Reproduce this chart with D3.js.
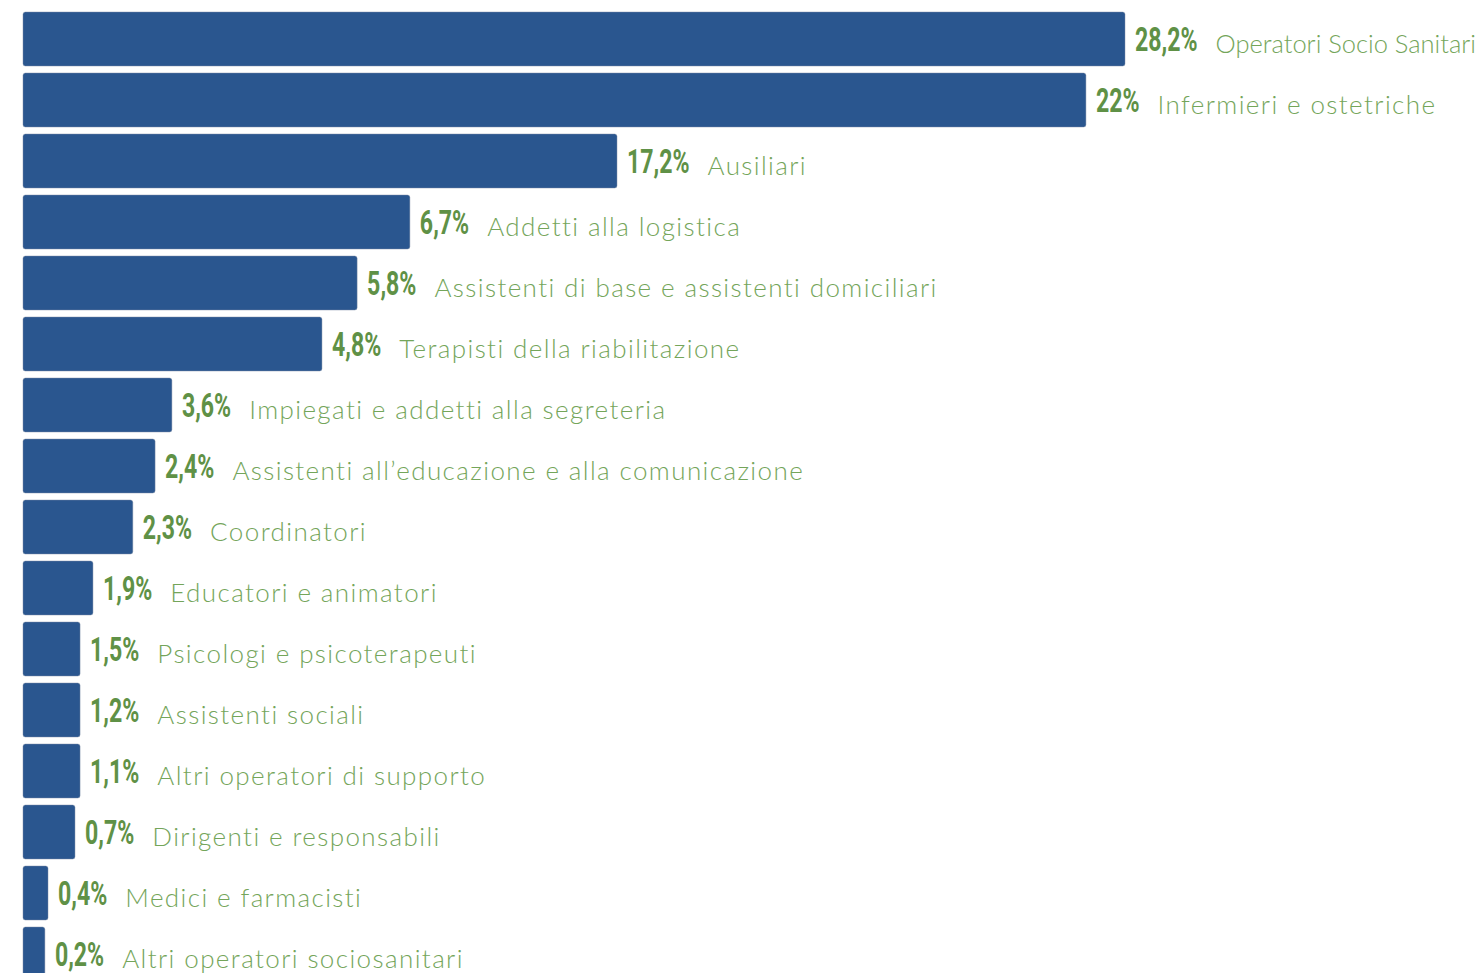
<!DOCTYPE html>
<html>
<head>
<meta charset="utf-8">
<script src="https://cdn.jsdelivr.net/npm/d3@7"></script>
<style>
html,body{margin:0;padding:0;background:#fff;overflow:hidden;}
svg{display:block;}
</style>
</head>
<body>
<svg id="chart" width="1481" height="973"></svg>
<script>
// Categories (top to bottom)
const categories = [
  "Operatori Socio Sanitari",
  "Infermieri e ostetriche",
  "Ausiliari",
  "Addetti alla logistica",
  "Assistenti di base e assistenti domiciliari",
  "Terapisti della riabilitazione",
  "Impiegati e addetti alla segreteria",
  "Assistenti all\u2019educazione e alla comunicazione",
  "Coordinatori",
  "Educatori e animatori",
  "Psicologi e psicoterapeuti",
  "Assistenti sociali",
  "Altri operatori di supporto",
  "Dirigenti e responsabili",
  "Medici e farmacisti",
  "Altri operatori  sociosanitari"
];
// Printed percentage labels
const percentLabels = ["28,2%","22%","17,2%","6,7%","5,8%","4,8%","3,6%","2,4%","2,3%","1,9%","1,5%","1,2%","1,1%","0,7%","0,4%","0,2%"];
// Bar lengths as drawn in the picture (percent units)
const barValues = [28.2, 27.2, 15.2, 9.9, 8.55, 7.65, 3.81, 3.38, 2.81, 1.79, 1.46, 1.46, 1.46, 1.33, 0.64, 0.56];

const W = 1481;
const svg = d3.select("#chart");
const x = d3.scaleLinear().domain([0, 28.2]).range([23, 1125]);
const y = d3.scaleBand().domain(categories).range([12, 981]).paddingInner(7/61).paddingOuter(0);

const rows = categories.map((c, i) => ({cat: c, pct: percentLabels[i], v: barValues[i]}));

svg.selectAll("rect.bar").data(rows).join("rect")
  .attr("class", "bar")
  .attr("x", x(0))
  .attr("y", d => y(d.cat))
  .attr("width", d => x(d.v) - x(0))
  .attr("height", y.bandwidth())
  .attr("rx", 2.5)
  .attr("fill", "#2a568f")
  .attr("stroke", "#7d8ba3")
  .attr("stroke-opacity", 0.45)
  .attr("stroke-width", 1);

const g = svg.selectAll("g.lab").data(rows).join("g").attr("class", "lab");

g.each(function(d) {
  const sel = d3.select(this);
  const cy = y(d.cat) + y.bandwidth() / 2;
  const px = x(d.v) + 10;
  const sx = 0.68;
  const t = sel.append("text")
    .attr("transform", `translate(${px},${cy + 12}) scale(${sx},1)`)
    .attr("font-family", "Roboto, 'DejaVu Sans', sans-serif")
    .attr("font-weight", 700)
    .attr("font-size", 34)
    .attr("fill", "#5f9146")
    .text(d.pct);
  const w = t.node().getComputedTextLength() * sx;
  const lx = px + w + 18;
  const lab = sel.append("text")
    .attr("x", lx)
    .attr("y", cy + 14)
    .attr("font-family", "Lato, 'Open Sans', sans-serif")
    .attr("font-weight", 300)
    .attr("font-size", 26)
    .attr("letter-spacing", 1.4)
    .attr("fill", "#74a55a")
    .text(d.cat);
  const lw = lab.node().getComputedTextLength();
  const maxW = W - 5 - lx;
  if (lw > maxW) {
    lab.attr("letter-spacing", 0)
       .attr("textLength", maxW)
       .attr("lengthAdjust", "spacingAndGlyphs");
  }
});
</script>
</body>
</html>
